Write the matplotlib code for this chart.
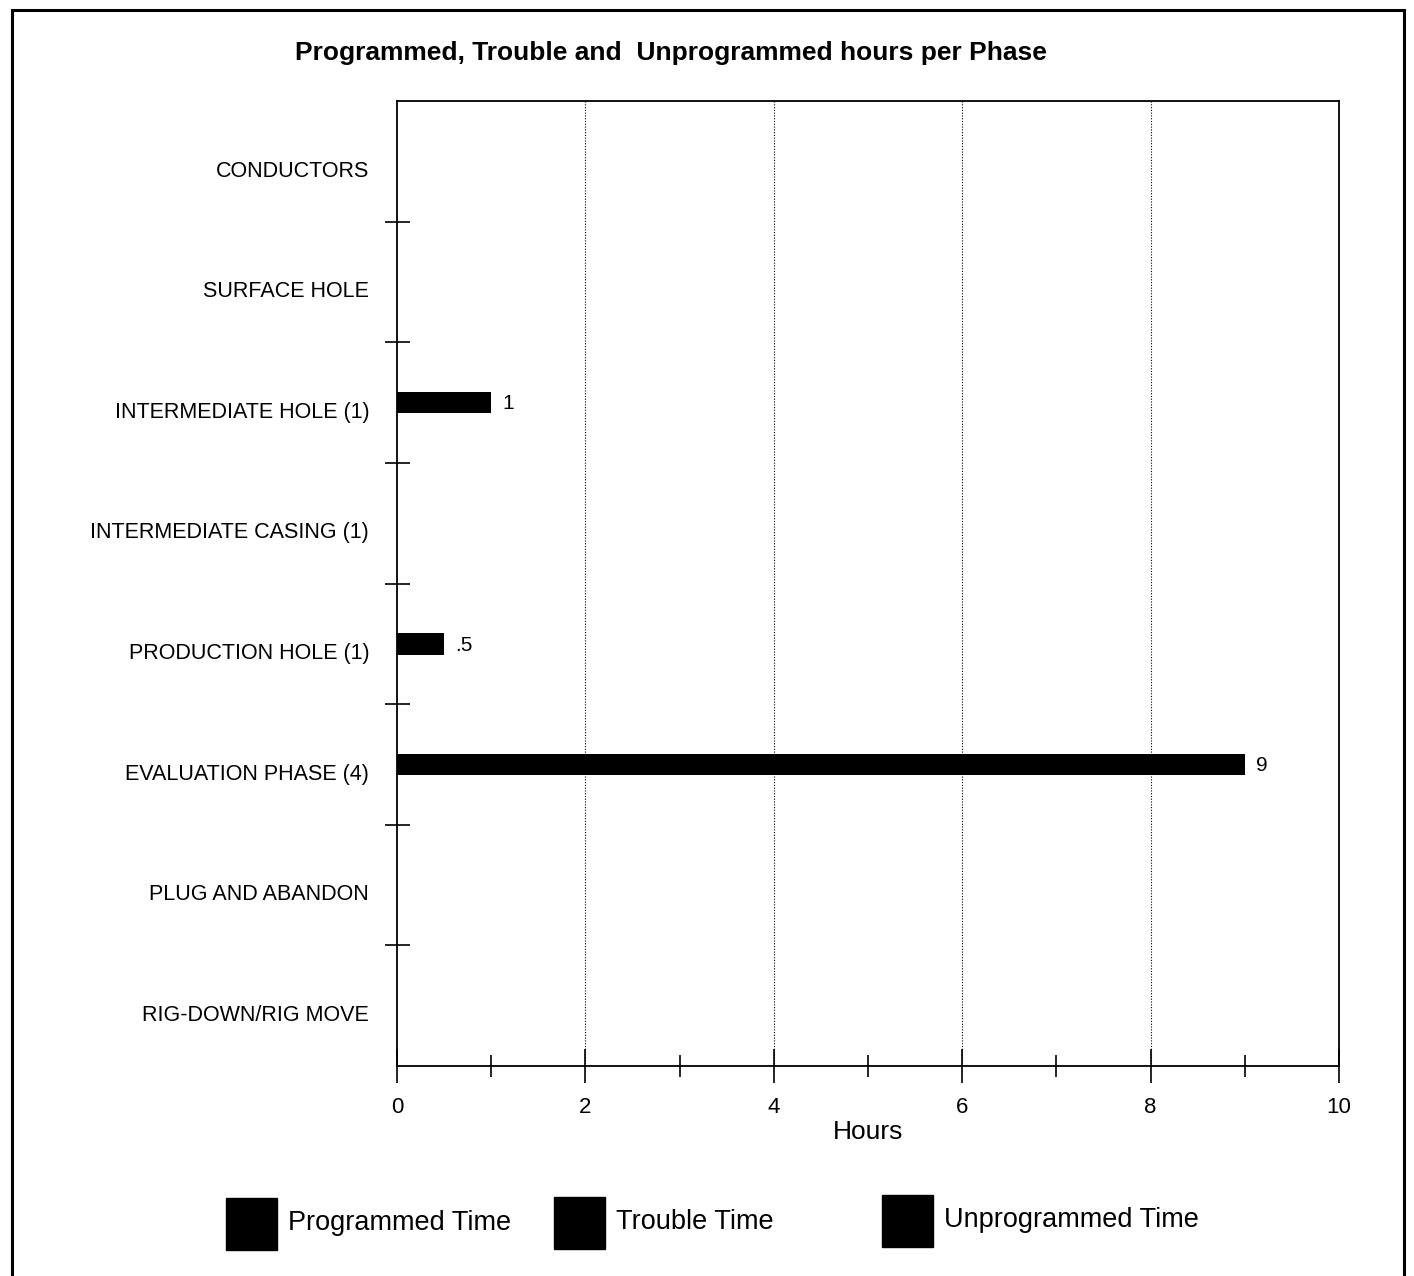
import matplotlib.pyplot as plt
import numpy as np
from matplotlib.patches import Rectangle

plt.rcParams['font.family'] = ['Liberation Sans', 'DejaVu Sans']

phases = ["CONDUCTORS", "SURFACE HOLE", "INTERMEDIATE HOLE (1)",
          "INTERMEDIATE CASING (1)", "PRODUCTION HOLE (1)",
          "EVALUATION PHASE (4)", "PLUG AND ABANDON", "RIG-DOWN/RIG MOVE"]
hours = [0, 0, 1, 0, 0.5, 9, 0, 0]
legend_names = ["Programmed Time", "Trouble Time", "Unprogrammed Time"]
x_ticks = [0, 2, 4, 6, 8, 10]

W, H = 1414, 1276
fig = plt.figure(figsize=(W / 100, H / 100), dpi=100)

# outer frame
fig.add_artist(Rectangle((12 / W, -0.01), (1404 - 12) / W, 1.01 - 10 / H,
                         transform=fig.transFigure, fill=False, lw=2.2, ec='black'))

ax = fig.add_axes([397 / W, 1 - 1066 / H, (1339 - 397) / W, (1066 - 101) / H])
y = np.arange(len(phases))
ax.barh(y, hours, height=0.18, color='black')
for yi, v in zip(y, hours):
    if v:
        lab = ('%g' % v).lstrip('0')
        ax.text(v + 0.12, yi + 0.01, lab, va='center', ha='left', fontsize=15)

ax.set_xlim(0, 10)
ax.set_ylim(len(phases) - 0.5, -0.5)
# category labels sit a little below the row centre, as in the original
ax.set_yticks(y + 0.06)
ax.set_yticklabels(phases, fontsize=15.5)
ax.set_yticks(y[:-1] + 0.5, minor=True)
ax.tick_params(axis='y', which='major', length=0, pad=20)
ax.tick_params(axis='y', which='minor', direction='inout', length=18, width=1.2)
ax.set_xticks(x_ticks)
ax.set_xticks(np.arange(1, 10, 2), minor=True)
ax.tick_params(axis='x', which='major', direction='inout', length=24, width=1.2,
               labelsize=16, pad=10)
ax.tick_params(axis='x', which='minor', direction='inout', length=16, width=1.2)
ax.set_xlabel("Hours", fontsize=19, labelpad=2)
for xv in x_ticks[1:-1]:
    ax.axvline(xv, color='black', ls=(0, (1, 1.5)), lw=0.8, zorder=0)
for s in ax.spines.values():
    s.set_linewidth(1.3)

fig.text(671 / W, 1 - 53 / H, "Programmed, Trouble and  Unprogrammed hours per Phase",
         ha='center', va='center', fontsize=19, fontweight='bold')

# legend
sq_x = [226, 554, 882]
sq_y = [1198, 1197, 1195]
for sx, sy, name in zip(sq_x, sq_y, legend_names):
    fig.add_artist(Rectangle((sx / W, 1 - (sy + 52) / H), 51 / W, 52 / H,
                             transform=fig.transFigure, color='black'))
    fig.text((sx + 62) / W, 1 - (sy + 25) / H, name, ha='left', va='center',
             fontsize=19.5)

fig.savefig("out.png", dpi=100)
